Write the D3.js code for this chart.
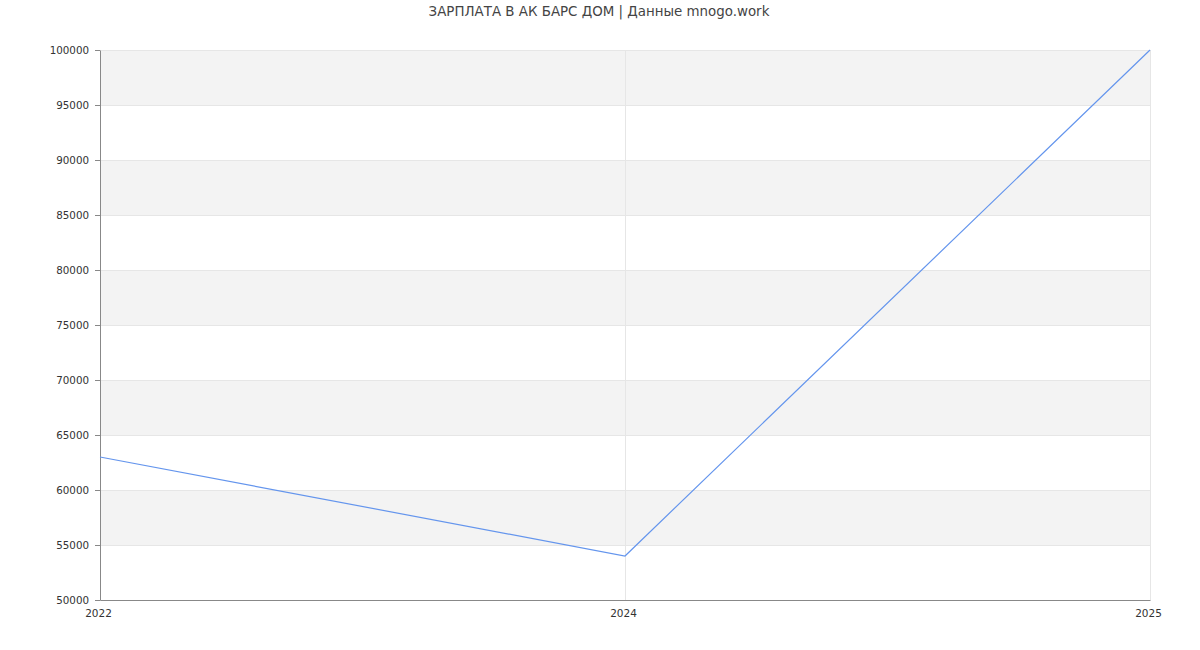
<!DOCTYPE html>
<html>
<head>
<meta charset="utf-8">
<script src="https://cdn.jsdelivr.net/npm/d3@7"></script>
<style>
  html, body { margin: 0; padding: 0; background: #fff; }
  svg { display: block; font-family: "DejaVu Sans", sans-serif; }
</style>
</head>
<body>
<svg id="chart" width="1200" height="650"></svg>
<script>
// Salary by year
const years = ["2022", "2024", "2025"];
const salaries = [63000, 54000, 100000];
const yTicks = [50000, 55000, 60000, 65000, 70000, 75000, 80000, 85000, 90000, 95000, 100000];
const chartTitle = "ЗАРПЛАТА В АК БАРС ДОМ | Данные mnogo.work";

const svg = d3.select("#chart");
const margin = { top: 50, right: 50, bottom: 50, left: 100 };
const width = 1200, height = 650;
const innerW = width - margin.left - margin.right;
const innerH = height - margin.top - margin.bottom;

const x = d3.scalePoint().domain(years).range([margin.left, margin.left + innerW]);
const y = d3.scaleLinear().domain([50000, 100000]).range([margin.top + innerH, margin.top]);

// Alternating horizontal bands
const bands = d3.pairs(yTicks).filter((_, i) => i % 2 === 1);
svg.append("g").selectAll("rect").data(bands).join("rect")
  .attr("x", margin.left)
  .attr("width", innerW)
  .attr("y", d => y(d[1]))
  .attr("height", d => y(d[0]) - y(d[1]))
  .attr("fill", "#f3f3f3");

// Horizontal grid lines
svg.append("g").selectAll("line").data(yTicks).join("line")
  .attr("x1", margin.left).attr("x2", margin.left + innerW)
  .attr("y1", d => y(d) + 0.5).attr("y2", d => y(d) + 0.5)
  .attr("stroke", "#e6e6e6").attr("stroke-width", 1);

// Vertical grid lines
svg.append("g").selectAll("line").data(years).join("line")
  .attr("x1", d => Math.round(x(d)) + 0.5).attr("x2", d => Math.round(x(d)) + 0.5)
  .attr("y1", margin.top).attr("y2", margin.top + innerH)
  .attr("stroke", "#e6e6e6").attr("stroke-width", 1);

// Y axis
const yAxis = svg.append("g")
  .attr("transform", `translate(${margin.left},0)`)
  .call(d3.axisLeft(y).tickValues(yTicks).tickFormat(d3.format("d")).tickSize(5).tickSizeOuter(0));
yAxis.select(".domain").attr("stroke", "#888");
yAxis.selectAll(".tick line").attr("stroke", "#888");
yAxis.selectAll(".tick text").attr("fill", "#333").attr("font-size", 10.3)
  .attr("font-family", "DejaVu Sans, sans-serif").attr("x", -11);

// X axis
const xAxis = svg.append("g")
  .attr("transform", `translate(0,${margin.top + innerH})`)
  .call(d3.axisBottom(x).tickSize(0).tickSizeOuter(0).tickPadding(10));
xAxis.select(".domain").attr("stroke", "#888");
xAxis.selectAll(".tick text").attr("fill", "#333").attr("font-size", 10.5)
  .attr("font-family", "DejaVu Sans, sans-serif").attr("dx", -2);

// Salary line
const line = d3.line().x((d, i) => x(years[i])).y(d => y(d));
svg.append("path")
  .datum(salaries)
  .attr("d", line)
  .attr("fill", "none")
  .attr("stroke", "#6495ed")
  .attr("stroke-width", 1.2);

// Title
svg.append("text")
  .attr("x", width / 2 - 1).attr("y", 16)
  .attr("text-anchor", "middle")
  .attr("font-size", 13.4)
  .attr("fill", "#444")
  .text(chartTitle);
</script>
</body>
</html>
